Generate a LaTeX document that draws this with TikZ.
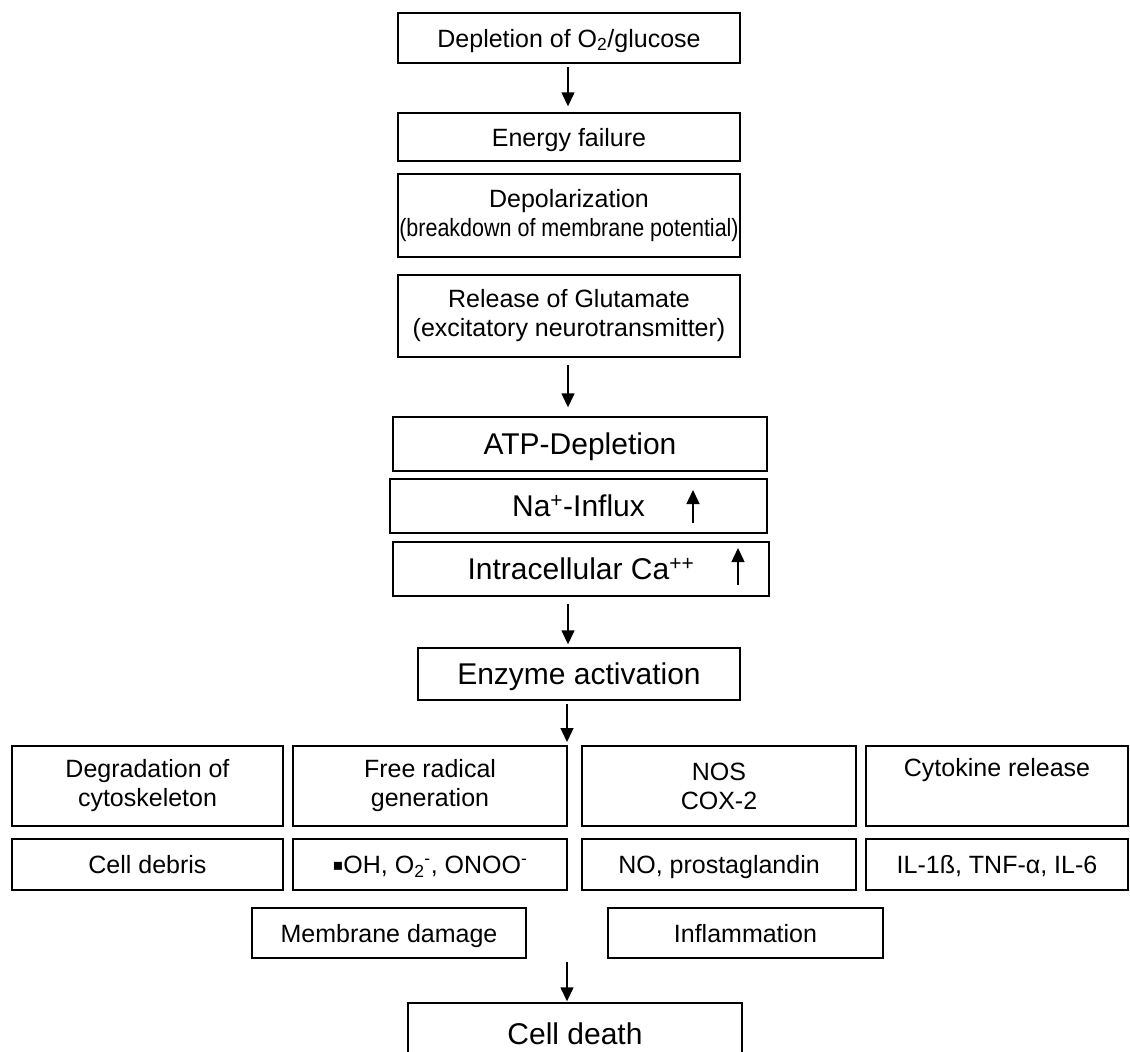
\documentclass[tikz,border=0pt]{standalone}
\usepackage{fontspec}
\usepackage{graphicx}
\setmainfont{Liberation Sans}
\newfontfamily\symfont{DejaVu Sans}
\usetikzlibrary{arrows.meta,calc}
\tikzset{
  box/.style={draw, line width=1.4pt, inner sep=0pt, align=center, anchor=center},
  smalltxt/.style={font=\fontsize{25}{29}\selectfont},
  bigtxt/.style={font=\fontsize{30}{34}\selectfont},
  onesmall/.style={text height=18pt, text depth=0pt},
  onebig/.style={text height=21.5pt, text depth=0pt},
  arr/.style={line width=1.4pt, -{Triangle[width=13pt,length=14pt]}}
}
\begin{document}
\begin{tikzpicture}[x=1pt,y=-1pt]
\useasboundingbox (0,0) rectangle (1130,1052);
\clip (0,0) rectangle (1130,1052);
% top chain
\node[box,smalltxt,onesmall,minimum width=342pt,minimum height=50pt] (b1) at (569,38) {Depletion of O\textsubscript{2}/glucose};
\node[box,smalltxt,onesmall,minimum width=342pt,minimum height=48pt] (b2) at (569,137) {Energy failure};
\node[box,smalltxt,minimum width=342pt,minimum height=83pt] (b3) at (569,215.5) {Depolarization\\\scalebox{0.86}[1]{(breakdown of membrane potential)}};
\node[box,smalltxt,minimum width=342pt,minimum height=82pt] (b4) at (569,316) {Release of Glutamate\\(excitatory neurotransmitter)};
% middle
\node[box,bigtxt,onebig,minimum width=374pt,minimum height=54pt] (atp) at (580,444) {ATP-Depletion};
\node[box,bigtxt,onebig,minimum width=377pt,minimum height=54pt] (na) at (578.5,506) {Na\textsuperscript{+}-Influx};
\node[box,bigtxt,onebig,minimum width=376pt,minimum height=54pt] (ca) at (581,569) {Intracellular Ca\textsuperscript{++}};
\node[box,bigtxt,onebig,minimum width=322pt,minimum height=52pt] (enz) at (579,674) {Enzyme activation};
% row 1
\node[box,smalltxt,minimum width=271pt,minimum height=80pt] (deg) at (147.5,786) {Degradation of\\cytoskeleton};
\node[box,smalltxt,minimum width=274pt,minimum height=80pt] (frg) at (430,786) {Free radical\\generation};
\node[box,smalltxt,minimum width=274pt,minimum height=80pt] (nos) at (719,786) {NOS\\COX-2};
\node[box,smalltxt,minimum width=262pt,minimum height=80pt] (cyt) at (997,786) {Cytokine release\\\strut};
% row 2
\node[box,smalltxt,onesmall,minimum width=271pt,minimum height=51pt] (deb) at (147.5,864.5) {Cell debris};
\node[box,smalltxt,onesmall,minimum width=274pt,minimum height=51pt] (oh) at (430,864.5) {\raisebox{3pt}{\symfont\fontsize{16}{18}\selectfont ▪}OH, O\textsubscript{2}\textsuperscript{-}, ONOO\textsuperscript{-}};
\node[box,smalltxt,onesmall,minimum width=274pt,minimum height=51pt] (no) at (719,864.5) {NO, prostaglandin};
\node[box,smalltxt,onesmall,minimum width=262pt,minimum height=51pt] (il) at (997,864.5) {IL-1ß, TNF-α, IL-6};
% row 3
\node[box,smalltxt,onesmall,minimum width=274pt,minimum height=50pt] (mem) at (389,933) {Membrane damage};
\node[box,smalltxt,onesmall,minimum width=275pt,minimum height=50pt] (inf) at (745.5,933) {Inflammation};
% cell death
\node[box,bigtxt,onebig,minimum width=334pt,minimum height=62pt] (cd) at (575,1034) {Cell death};
% connectors
\coordinate (a1s) at (568,67);
\coordinate (a2s) at (568,365);
\coordinate (a3s) at (568,604);
\coordinate (a4s) at (567,704);
\coordinate (split) at (567,742);
\coordinate (join) at (567,962);
\draw[arr, shorten >=6pt] (a1s) -- (a1s |- b2.north);
\draw[arr, shorten >=9pt] (a2s) -- (a2s |- atp.north);
\draw[arr, shorten >=3pt] (a3s) -- (a3s |- enz.north);
\draw[arr] (a4s) -- (split);
\draw[arr, shorten >=1pt] (join) -- (join |- cd.north);
% up arrows
\coordinate (nab) at (693,523);
\coordinate (nat) at (693,490);
\coordinate (cab) at (738,585);
\coordinate (cat) at (738,548);
\draw[arr] (nab) -- (nat);
\draw[arr] (cab) -- (cat);
\end{tikzpicture}
\end{document}
